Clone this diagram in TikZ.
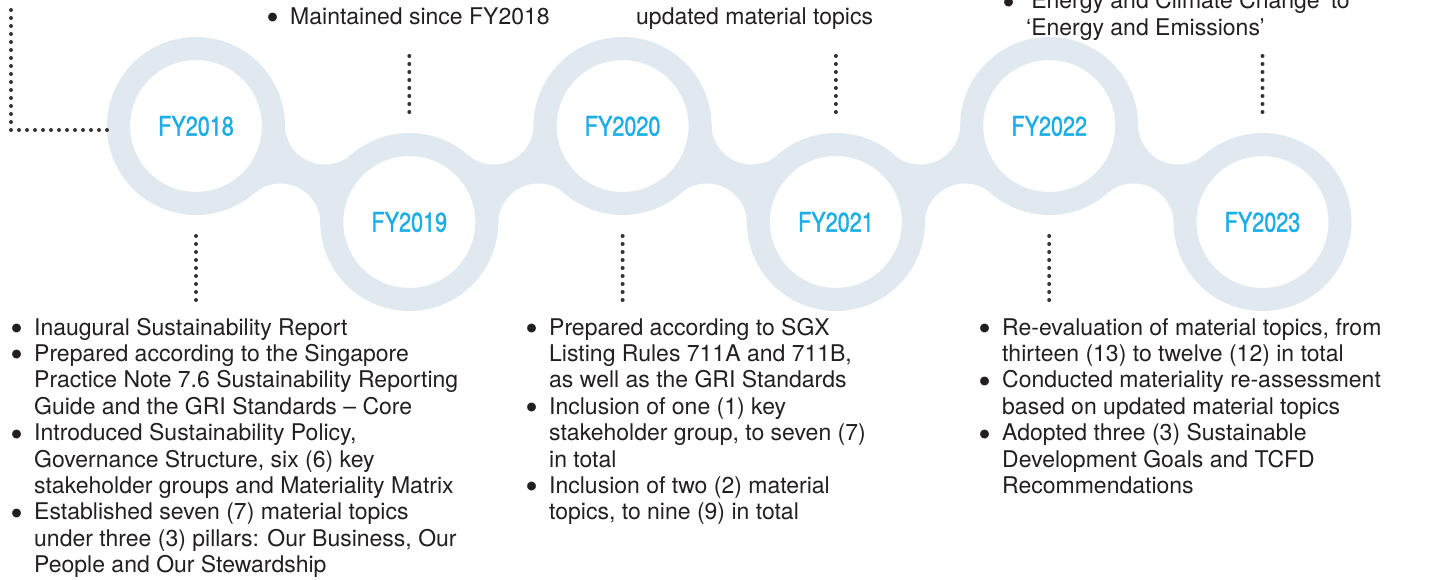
\documentclass[tikz,border=0pt]{standalone}
\usepackage{fontspec}
\setmainfont{TeX Gyre Heros}
\newfontfamily\yearfont[FakeStretch=0.8,FakeBold=1.2]{TeX Gyre Heros}
\newfontfamily\symfont{DejaVu Sans}
\usetikzlibrary{calc,backgrounds}
\definecolor{ringgray}{RGB}{223,233,239}
\definecolor{yearblue}{RGB}{27,174,230}
\definecolor{textdark}{RGB}{35,31,32}
\definecolor{dotgray}{RGB}{51,51,51}
\newcommand\bul{\raisebox{3.6pt}{\symfont\fontsize{11.5}{12}\selectfont ●}}
\newenvironment{bullets}{\begin{tabular}[t]{@{}p{22.5pt}@{}l@{}}}{\end{tabular}}
\tikzset{
  ring/.style={circle,minimum size=155pt,inner sep=0pt,draw=ringgray,line width=23pt,
    fill=white,text=yearblue,font=\fontsize{27}{30}\yearfont},
  dotline/.style={dotgray,line width=4pt,line cap=round,dash pattern=on 0pt off 8pt},
  listtext/.style={anchor=base west,inner sep=0pt,text=textdark,font=\fontsize{23}{26.4}\selectfont}
}

\begin{document}
\begin{tikzpicture}[x=1pt,y=-1pt]
  \useasboundingbox (0,0) rectangle (1430,579);

  \foreach \yr/\x/\y in {18/196/126,19/409.3/222,20/622.6/126,21/835.9/222,22/1049.2/126,23/1262.5/222}
    \node[ring] (fy\yr) at (\x,\y) {\raisebox{-2pt}{FY20\yr}};

  \begin{scope}[on background layer]
    \foreach \a/\b in {18/19,19/20,20/21,21/22,22/23}{
      \coordinate (n1) at ($(fy\a.center)!.5!(fy\b.center)!54.3pt!90:(fy\b.center)$);
      \coordinate (n2) at ($(fy\a.center)!.5!(fy\b.center)!54.3pt!-90:(fy\b.center)$);
      \fill[ringgray] (fy\a.center) -- (n1) -- (fy\b.center) -- (n2) -- cycle;
      \fill[white] (n1) circle (40pt) (n2) circle (40pt);
    }
  \end{scope}

  \node[listtext] (top19) at (267.5,24) {\begin{bullets}
    \bul & Maintained since FY2018
  \end{bullets}};
  \node[listtext] (top21) at (636,24) {updated material topics};
  \node[listtext] (top23) at (1003.5,8.6) {\begin{bullets}
    \bul & ‘Energy and Climate Change’ to\\
    & ‘Energy and Emissions’
  \end{bullets}};

  \node[listtext] (txt18) at (11.5,335) {\begin{bullets}
    \bul & Inaugural Sustainability Report\\
    \bul & Prepared according to the Singapore\\
    & Practice Note 7.6 Sustainability Reporting\\
    & Guide and the GRI Standards – Core\\
    \bul & Introduced Sustainability Policy,\\
    & Governance Structure, six (6) key\\
    & stakeholder groups and Materiality Matrix\\
    \bul & Established seven (7) material topics\\
    & under three (3) pillars: Our Business, Our\\
    & People and Our Stewardship
  \end{bullets}};
  \node[listtext] (txt20) at (526.5,335) {\begin{bullets}
    \bul & Prepared according to SGX\\
    & Listing Rules 711A and 711B,\\
    & as well as the GRI Standards\\
    \bul & Inclusion of one (1) key\\
    & stakeholder group, to seven (7)\\
    & in total\\
    \bul & Inclusion of two (2) material\\
    & topics, to nine (9) in total
  \end{bullets}};
  \node[listtext] (txt22) at (979.5,335) {\begin{bullets}
    \bul & Re-evaluation of material topics, from\\
    & thirteen (13) to twelve (12) in total\\
    \bul & Conducted materiality re-assessment\\
    & based on updated material topics\\
    \bul & Adopted three (3) Sustainable\\
    & Development Goals and TCFD\\
    & Recommendations
  \end{bullets}};

  \coordinate (lead18) at (11,10);
  \draw[dotline] (lead18) |- ([yshift=-4pt]fy18.west);
  \foreach \yr in {19,21,23}{
    \coordinate (tip\yr) at ([yshift=77pt]fy\yr.north);
    \draw[dotline] (tip\yr) -- ([yshift=21pt]fy\yr.north);
  }
  \foreach \yr in {18,20,22}{
    \coordinate (foot\yr) at ([yshift=-85pt]fy\yr.south);
    \draw[dotline] ([yshift=-21pt]fy\yr.south) -- (foot\yr);
  }
\end{tikzpicture}
\end{document}
